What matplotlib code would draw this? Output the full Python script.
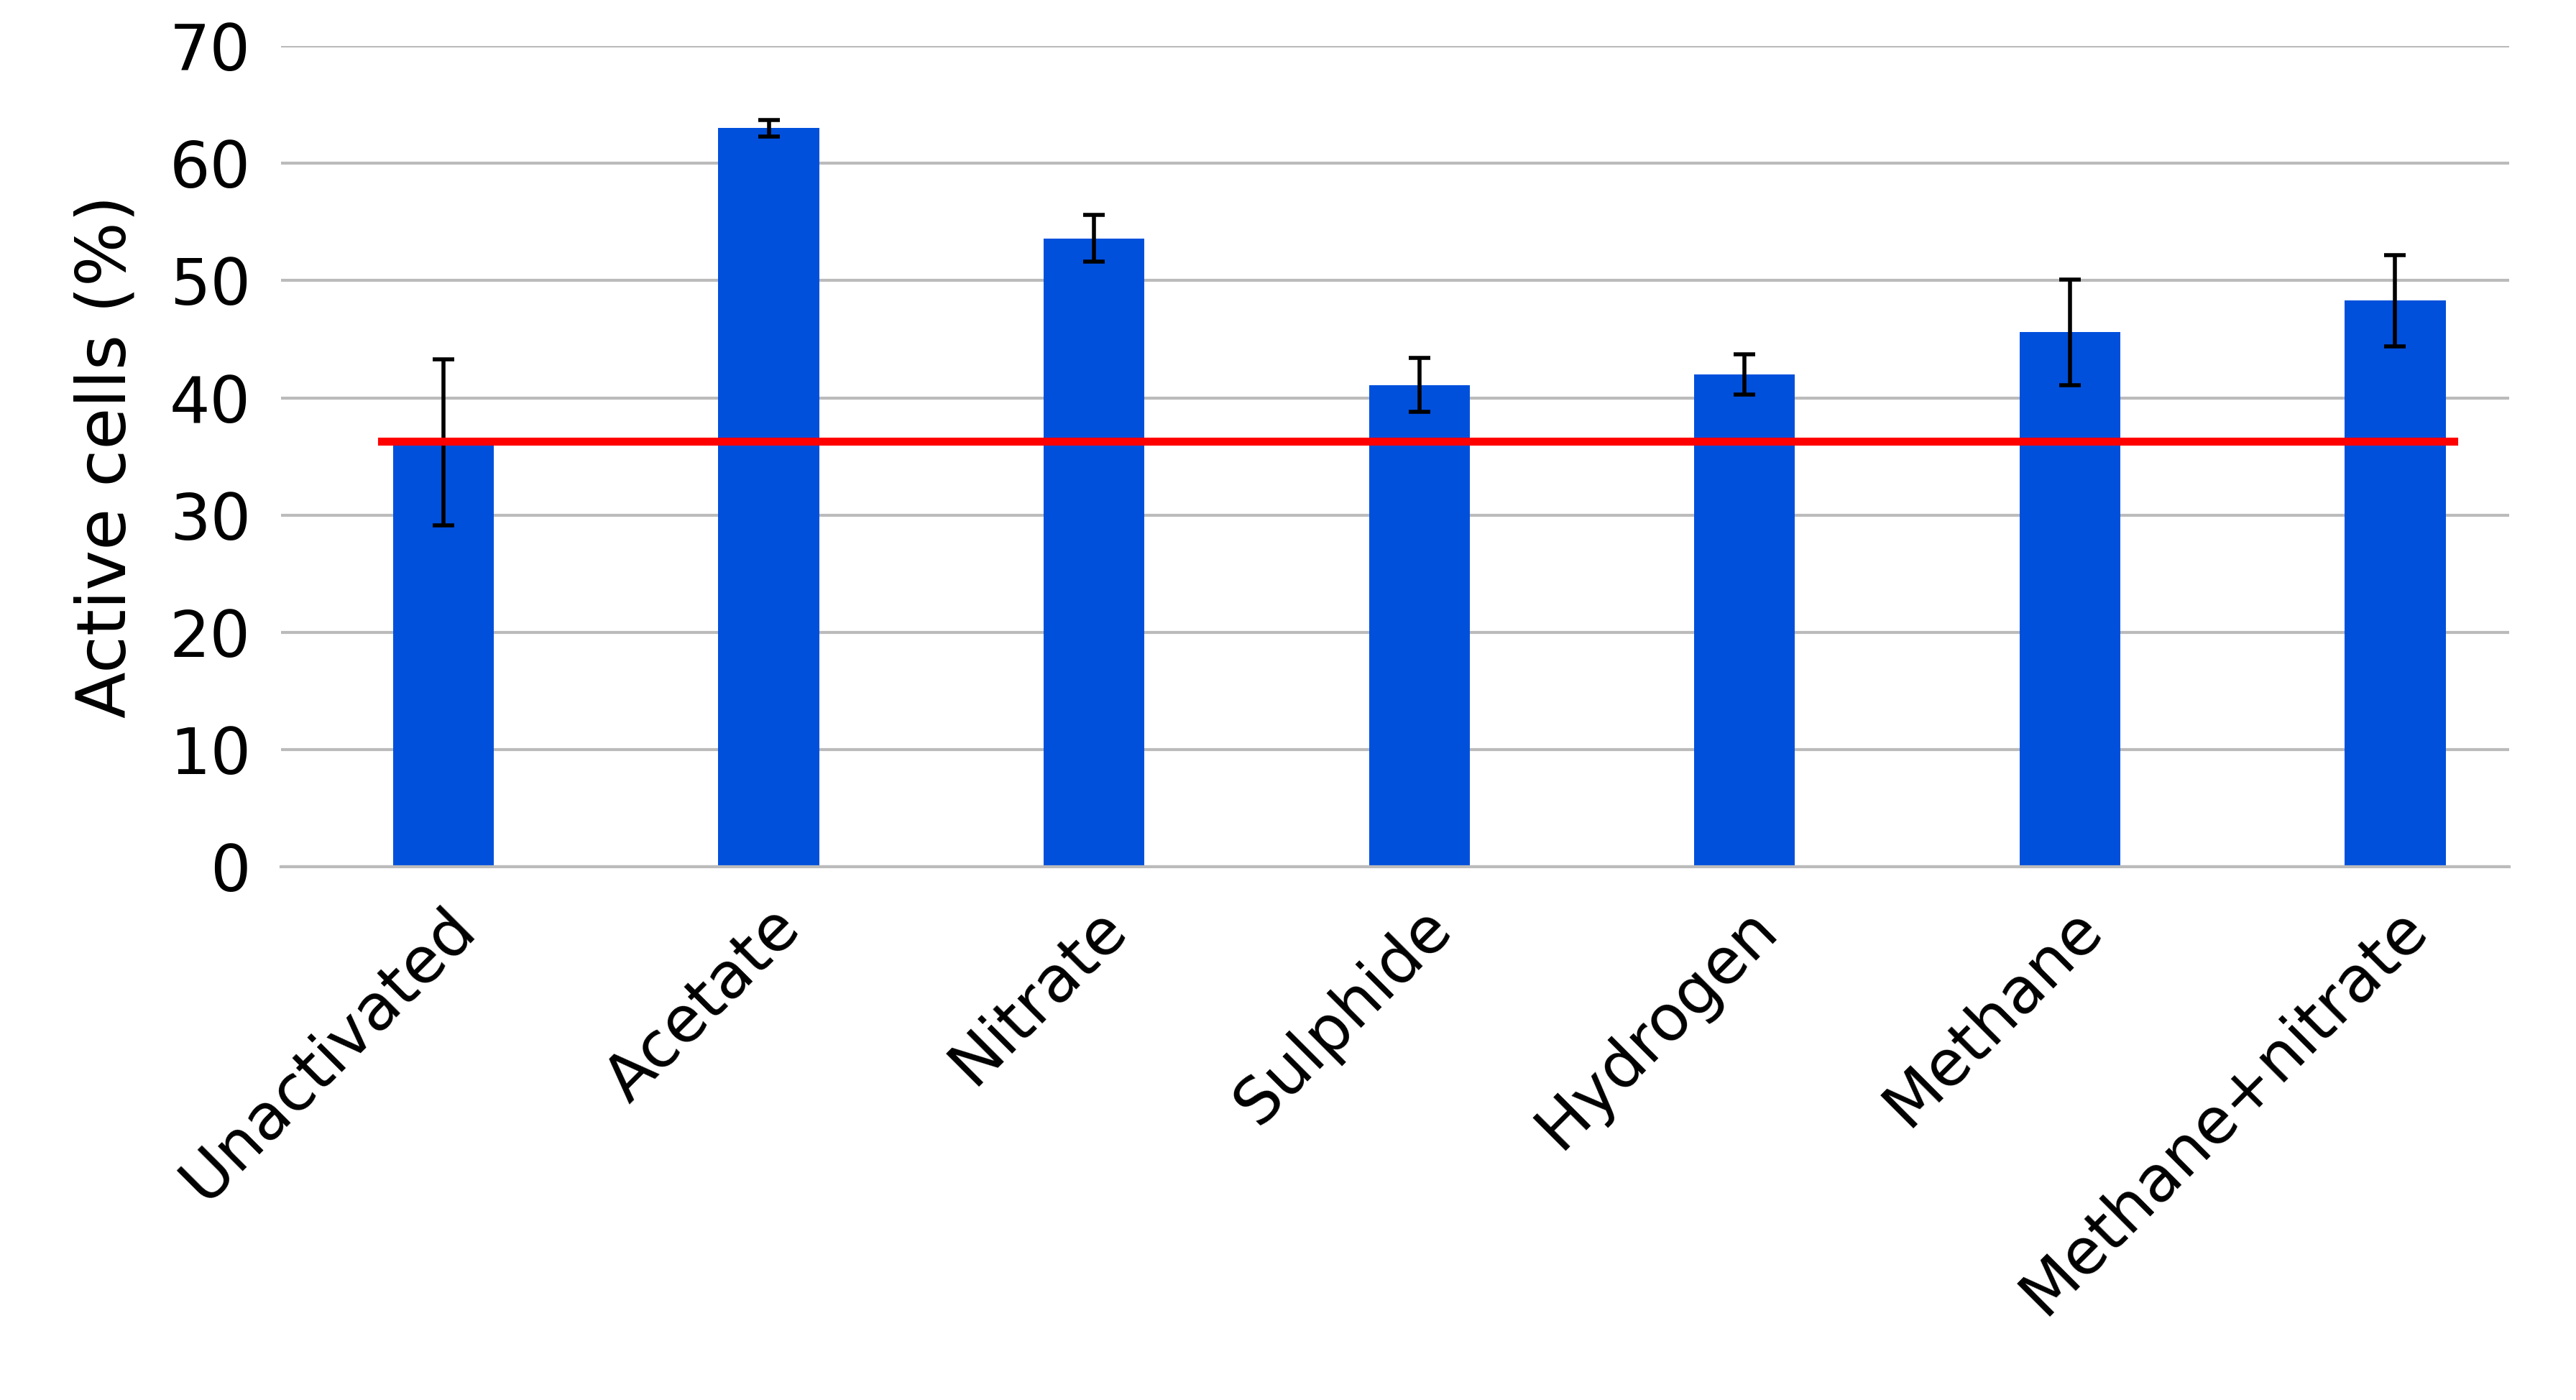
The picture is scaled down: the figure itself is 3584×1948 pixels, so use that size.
import matplotlib
matplotlib.use("Agg")
import matplotlib.pyplot as plt

categories = ["Unactivated", "Acetate", "Nitrate", "Sulphide", "Hydrogen", "Methane", "Methane+nitrate"]
values = [36.2, 63.0, 53.6, 41.1, 42.0, 45.6, 48.3]
errors = [7.1, 0.7, 2.0, 2.3, 1.7, 4.5, 3.9]
baseline = 36.3

fig = plt.figure(figsize=(35.84, 19.48), dpi=100)
ax = fig.add_axes([0.109, 0.381, 0.865, 0.586])
x = range(len(categories))
ax.bar(x, values, width=0.31, color="#0050DC", zorder=2)
ax.errorbar(x, values, yerr=errors, fmt="none", ecolor="black", elinewidth=4, capsize=11, capthick=4, zorder=3)
ax.plot([-0.19, 6.18], [baseline, baseline], color="#FF0000", lw=8, zorder=4)
ax.set_ylim(0, 70)
ax.set_xlim(-0.5, 6.35)
ax.set_yticks(range(0, 71, 10))
ax.grid(axis="y", color="#BBBBBB", lw=3, zorder=0)
for s in ["top", "right", "left"]:
    ax.spines[s].set_visible(False)
ax.spines["bottom"].set_color("#BBBBBB")
ax.spines["bottom"].set_linewidth(3)
ax.tick_params(length=0, labelsize=64, pad=30)
ax.set_xticks(list(x))
ax.set_xticklabels(categories, rotation=45, ha="right", rotation_mode="anchor")
ax.set_ylabel("Active cells (%)", fontsize=68, labelpad=30)
fig.savefig("out.png", dpi=100)
